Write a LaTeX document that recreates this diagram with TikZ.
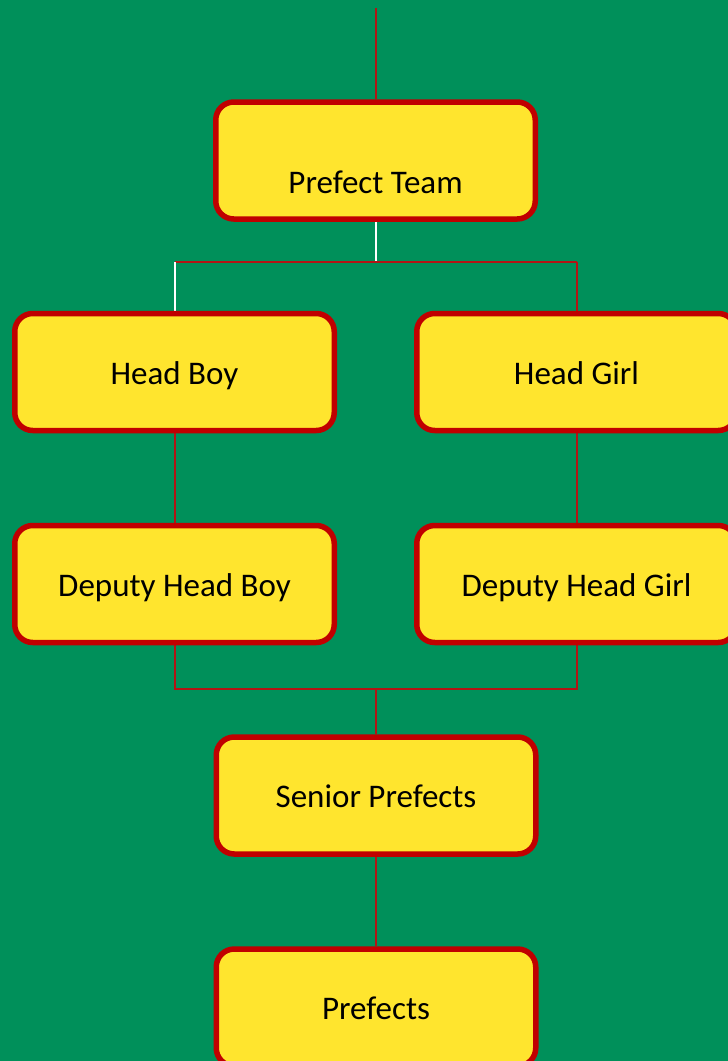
\documentclass[tikz,border=0pt]{standalone}
\usepackage{fontspec}
\setmainfont{Carlito}
\definecolor{bg}{HTML}{00905A}
\definecolor{boxfill}{HTML}{FFE52E}
\definecolor{boxline}{HTML}{C00000}
\definecolor{link}{HTML}{B31414}
\pgfdeclarelayer{bglayer}
\pgfdeclarelayer{linklayer}
\pgfsetlayers{bglayer,linklayer,main}
\begin{document}
\begin{tikzpicture}[x=1pt,y=-1pt,
  orgbox/.style={draw=boxline, fill=boxfill, line width=5.5pt, rounded corners=18pt,
    minimum width=319.5pt, minimum height=117pt, inner sep=0pt,
    font=\fontsize{33}{38}\selectfont, text height=26pt, text depth=2pt},
  boxtext/.style={inner sep=0pt, font=\fontsize{33}{38}\selectfont, text height=26pt, text depth=2pt},
  redlink/.style={draw=link, line width=2pt},
  whitelink/.style={draw=white, line width=2pt}]
\useasboundingbox (0,0) rectangle (728,1061);
\clip (0,0) rectangle (728,1061);
\begin{pgfonlayer}{bglayer}
\fill[bg] (0,0) rectangle (728,1061);
\end{pgfonlayer}

\node[orgbox] (pt) at (375.5,160.5) {};
\node[boxtext] (ptt) at (375.5,181) {Prefect Team};
\node[orgbox] (hb) at (174.5,372) {Head Boy};
\node[orgbox] (hg) at (576.5,372) {Head Girl};
\node[orgbox] (dhb) at (174.5,584) {Deputy Head Boy};
\node[orgbox] (dhg) at (576.5,584) {Deputy Head Girl};
\node[orgbox] (sp) at (376,795.5) {Senior Prefects};
\node[orgbox] (pf) at (376,1007.5) {Prefects};

\coordinate (top) at (376,8);
\coordinate (ja) at (376,262);
\coordinate (jb) at (376,689);

\begin{pgfonlayer}{linklayer}
\draw[redlink] (top) -- (top |- pt.north);
\draw[whitelink] (ja |- pt.south) -- (ja);
\draw[redlink] (hb.north |- ja) -- (hg.north |- ja);
\draw[whitelink] (hb.north |- ja) -- (hb.north);
\draw[redlink] (hg.north |- ja) -- (hg.north);
\draw[redlink] (hb.south) -- (dhb.north);
\draw[redlink] (hg.south) -- (dhg.north);
\draw[redlink] (dhb.south) -- (dhb.south |- jb) -- (dhg.south |- jb) -- (dhg.south);
\draw[redlink] (jb) -- (jb |- sp.north);
\draw[redlink] (sp.south) -- (sp.south |- pf.north);
\end{pgfonlayer}
\end{tikzpicture}
\end{document}
